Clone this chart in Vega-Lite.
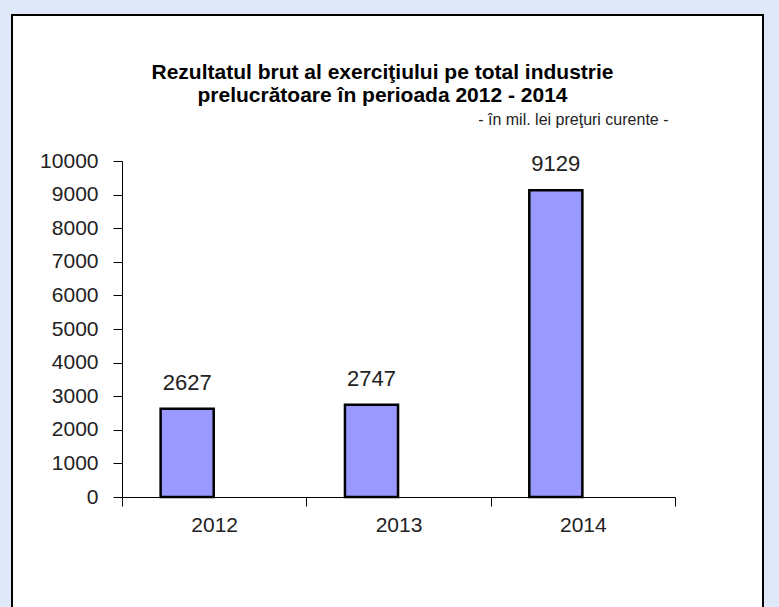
{
  "$schema": "https://vega.github.io/schema/vega-lite/v6.json",
  "width": 751,
  "height": 600,
  "autosize": "none",
  "padding": {"left": 12, "top": 15, "right": 16, "bottom": 0},
  "background": "#dfe8f9",
  "title": {
    "text": ["Rezultatul brut al exerciţiului  pe total industrie", "prelucrătoare în perioada 2012 - 2014"],
    "font": "Liberation Sans",
    "fontSize": 21,
    "fontWeight": "bold",
    "color": "black",
    "anchor": "middle",
    "dx": -5,
    "lineHeight": 23,
    "offset": -108,
    "baseline": "alphabetic"
  },
  "data": {
    "values": [
      {"an": "2012", "valoare": 2627},
      {"an": "2013", "valoare": 2747},
      {"an": "2014", "valoare": 9129}
    ]
  },
  "encoding": {
    "x": {
      "field": "an",
      "type": "nominal",
      "sort": null,
      "scale": {"range": [110, 663], "paddingInner": 0, "paddingOuter": 0},
      "axis": {
        "title": null,
        "labelAngle": 0,
        "offset": -118,
        "tickBand": "extent",
        "tickSize": 9,
        "labelPadding": 8,
        "labelFont": "Liberation Sans",
        "labelFontSize": 21,
        "labelColor": "#222222",
        "domainColor": "black",
        "tickColor": "black",
        "grid": false
      }
    },
    "y": {
      "field": "valoare",
      "type": "quantitative",
      "scale": {"domain": [0, 10000], "range": [482, 146], "nice": false},
      "axis": {
        "title": "- în mil. lei preţuri curente -",
        "titleAngle": 0,
        "titleX": 546,
        "titleY": 109,
        "titleAlign": "right",
        "titleBaseline": "alphabetic",
        "titleFont": "Liberation Sans",
        "titleFontSize": 16,
        "titleFontWeight": "normal",
        "titleColor": "#222222",
        "offset": -110,
        "values": [0, 1000, 2000, 3000, 4000, 5000, 6000, 7000, 8000, 9000, 10000],
        "format": "d",
        "tickSize": 9,
        "labelPadding": 15,
        "labelFont": "Liberation Sans",
        "labelFontSize": 21,
        "labelColor": "#222222",
        "domainColor": "black",
        "tickColor": "black",
        "grid": false
      }
    }
  },
  "layer": [
    {
      "mark": {"type": "bar", "fill": "#9999ff", "stroke": "black", "strokeWidth": 2.5, "width": {"band": 0.288}, "xOffset": -27}
    },
    {
      "mark": {"type": "text", "font": "Liberation Sans", "fontSize": 22, "color": "#222222", "baseline": "alphabetic", "dy": -19, "xOffset": -27},
      "encoding": {"text": {"field": "valoare", "type": "quantitative", "format": "d"}}
    }
  ],
  "config": {
    "view": {"fill": "white", "stroke": "black", "strokeWidth": 2}
  }
}
